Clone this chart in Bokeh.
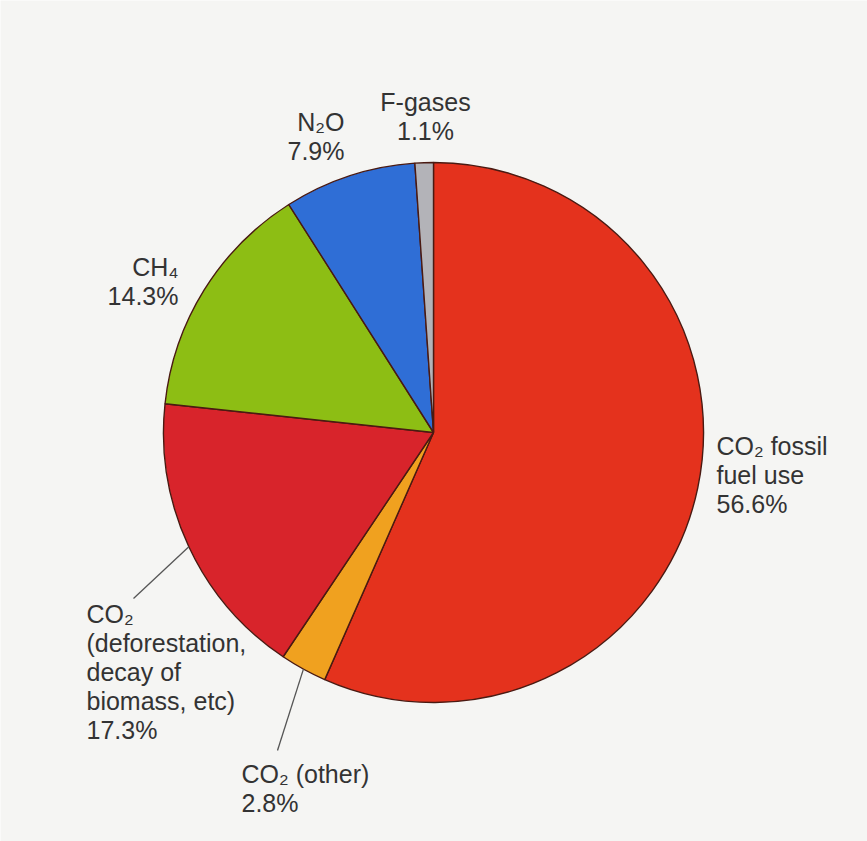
import math
from bokeh.plotting import figure
from bokeh.models import ColumnDataSource, Range1d
from bokeh.core.properties import value
from bokeh.embed import file_html
from bokeh.resources import INLINE

# ---- data (clockwise from 12 o'clock) ----
categories = ["CO₂ fossil fuel use", "CO₂ (other)", "CO₂ (deforestation, decay of biomass, etc)",
              "CH₄", "N₂O", "F-gases"]
shares = [56.6, 2.8, 17.3, 14.3, 7.9, 1.1]
colors = ["#e4321d", "#f0a11f", "#d8242b", "#8dbe14", "#2f6ed6", "#b3b3b8"]

label_lines = [
    ["CO₂ fossil", "fuel use", "56.6%"],
    ["CO₂ (other)", "2.8%"],
    ["CO₂", "(deforestation,", "decay of", "biomass, etc)", "17.3%"],
    ["CH₄", "14.3%"],
    ["N₂O", "7.9%"],
    ["F-gases", "1.1%"],
]

W, H = 867, 841
CX, CY, R = 433, H - 432, 270

# label anchors (screen coords: x, first line centre y, align)
anchors = [
    (716, 445, "left"),
    (241, 773, "left"),
    (86, 613, "left"),
    (178, 266, "right"),
    (344, 121, "right"),
    (425, 101, "center"),
]
line_gap = 29
leader_ends = {1: (277, 750), 2: (133, 598)}

total = sum(shares)
starts, ends = [], []
cum = 0.0
for s in shares:
    a0 = math.pi / 2 - 2 * math.pi * cum / total
    cum += s
    a1 = math.pi / 2 - 2 * math.pi * cum / total
    starts.append(a1)
    ends.append(a0)

src = ColumnDataSource(dict(start=starts, end=ends, color=colors, cat=categories))

p = figure(width=W, height=H, x_range=Range1d(0, W), y_range=Range1d(0, H),
           output_backend="svg", toolbar_location=None,
           x_axis_location=None, y_axis_location=None, min_border=0)
p.grid.visible = False
p.outline_line_color = None
p.background_fill_color = "#f5f5f3"
p.border_fill_color = "#f5f5f3"

p.wedge(x=CX, y=CY, radius=R, start_angle="start", end_angle="end",
        fill_color="color", line_color="#4a1a12", line_width=1.4, source=src)

# leader lines
for i, (ex, ey) in leader_ends.items():
    mid = (starts[i] + ends[i]) / 2
    sx = CX + R * math.cos(mid)
    sy = CY + R * math.sin(mid)
    p.line([sx, ex], [sy, H - ey], line_color="#555555", line_width=1.3)

# labels
for lines, (ax, ay, al) in zip(label_lines, anchors):
    xs = [ax] * len(lines)
    ys = [H - (ay + k * line_gap) for k in range(len(lines))]
    p.text(x=xs, y=ys, text=lines, text_align=al, text_baseline="middle",
           text_font=value("Liberation Sans"), text_font_size="25px",
           text_color="#333333")

open("out.html", "w").write(file_html(p, INLINE))
